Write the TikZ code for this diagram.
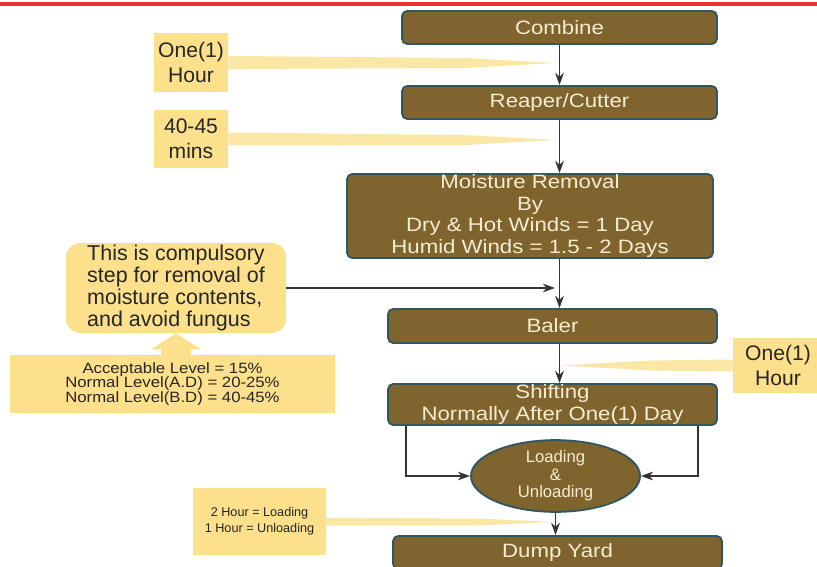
\documentclass[tikz,border=0pt]{standalone}
\usepackage{fontspec}
\setmainfont{Liberation Sans}
\newfontfamily\widesans[FakeStretch=1.15]{Liberation Sans}
\newfontfamily\smallwide[FakeStretch=1.12]{Liberation Sans}
\usetikzlibrary{shapes.geometric,arrows.meta}

\definecolor{stagebrown}{RGB}{128,100,45}
\definecolor{stageedge}{RGB}{50,88,95}
\definecolor{stagetext}{RGB}{246,236,210}
\definecolor{noteyellow}{RGB}{252,224,140}
\definecolor{wedgeyellow}{RGB}{251,231,165}
\definecolor{topred}{RGB}{235,50,50}

\begin{document}
\begin{tikzpicture}[x=0.02cm, y=-0.02cm,
    stage/.style={rectangle, draw=stageedge, line width=1.1pt, fill=stagebrown, rounded corners=3pt, text=stagetext, align=center, inner sep=0pt, minimum width=6.58cm, minimum height=0.66cm, font=\widesans\fontsize{11}{12.4}\selectfont},
    callout/.style={rectangle, fill=noteyellow, align=center, inner sep=0pt, text=black!85, font=\fontsize{12}{14}\selectfont},
    wedge/.style={fill=wedgeyellow},
    arr/.style={draw=black!80, line width=0.8pt, -{Stealth[length=7pt,width=5pt]}}]

    \useasboundingbox (0,0) rectangle (817,567);
    \draw[topred, line width=2pt] (0,4) -- (817,4);

    % main flow
    \node[stage, minimum width=6.3cm] (combine) at (559.5,27.5) {Combine};
    \node[stage, minimum width=6.3cm] (reaper) at (559.5,102.5) {Reaper/Cutter};
    \node[stage, minimum width=7.32cm, minimum height=1.68cm] (moisture) at (530,216) {Moisture Removal\\By\\Dry \& Hot Winds = 1 Day\\Humid Winds = 1.5 - 2 Days};
    \node[stage, minimum height=0.68cm] (baler) at (552.5,326) {Baler};
    \node[stage, minimum height=0.82cm] (shifting) at (552.5,404.5) {Shifting\\Normally After One(1) Day};
    \node[stage, ellipse, minimum width=3.38cm, minimum height=1.16cm, font=\fontsize{9.5}{10}\selectfont] (loading) at (555.5,476) {Loading\\\&\\Unloading};
    \node[stage] (dump) at (557.5,552.5) {Dump Yard};

    % side notes
    \node[callout, minimum width=1.48cm, minimum height=1.18cm] (hour1) at (191,62.5) {One(1)\\Hour};
    \node[callout, minimum width=1.48cm, minimum height=1.16cm] (mins) at (191,139) {40-45\\mins};
    \node[callout, rounded corners=8pt, align=left, minimum width=4.4cm, minimum height=1.8cm, font=\fontsize{12.2}{12.6}\selectfont] (note) at (176,288) {This is compulsory\\step for removal of\\moisture contents,\\and avoid fungus};
    \node[callout, minimum width=6.5cm, minimum height=1.16cm, font=\smallwide\fontsize{8.5}{8.3}\selectfont] (levels) at (172.5,384) {Acceptable Level = 15\%\\Normal Level(A.D) = 20-25\%\\Normal Level(B.D) = 40-45\%};
    \node[callout, minimum width=1.8cm, minimum height=1.1cm] (hour2) at (778,365.5) {One(1)\\Hour};
    \node[callout, minimum width=2.66cm, minimum height=1.34cm, font=\fontsize{7.2}{9}\selectfont] (loadtime) at (259.5,521.5) {2 Hour = Loading\\1 Hour = Unloading};

    \coordinate (tip1) at (555,63);
    \coordinate (tip2) at (555,140);
    \coordinate (tip3) at (561,365.5);
    \coordinate (tip4) at (553,522);
    \coordinate (tipnote) at (555,288);

    % pointers
    \fill[wedge] ([yshift=0.13cm]hour1.east) -- ([xshift=-1.8cm,yshift=0.1cm]tip1) -- (tip1) -- ([xshift=-1.8cm,yshift=-0.1cm]tip1) -- ([yshift=-0.13cm]hour1.east) -- cycle;
    \fill[wedge] ([yshift=0.13cm]mins.east) -- ([xshift=-1.8cm,yshift=0.1cm]tip2) -- (tip2) -- ([xshift=-1.8cm,yshift=-0.1cm]tip2) -- ([yshift=-0.13cm]mins.east) -- cycle;
    \fill[wedge] ([yshift=0.12cm]hour2.west) -- ([xshift=1.8cm,yshift=0.1cm]tip3) -- (tip3) -- ([xshift=1.8cm,yshift=-0.1cm]tip3) -- ([yshift=-0.12cm]hour2.west) -- cycle;
    \fill[wedge] ([yshift=0.08cm]loadtime.east) -- ([xshift=-1.5cm,yshift=0.07cm]tip4) -- (tip4) -- ([xshift=-1.5cm,yshift=-0.07cm]tip4) -- ([yshift=-0.08cm]loadtime.east) -- cycle;
    \fill[noteyellow] (note.south) -- ++(25,16) -- ++(-10,0) -- ++(0,8) -- ++(-30,0) -- ++(0,-8) -- ++(-10,0) -- cycle;

    % connectors
    \draw[arr] (combine) -- (reaper);
    \draw[arr] (reaper.south) -- (reaper.south |- moisture.north);
    \draw[arr] (moisture.south -| reaper.south) -- (baler.north -| reaper.south);
    \draw[arr] (baler.south -| reaper.south) -- (shifting.north -| reaper.south);
    \draw[arr] (note.east) -- (tipnote);
    \draw[arr] ([xshift=0.38cm]shifting.south west) |- (loading.west);
    \draw[arr] ([xshift=-0.4cm]shifting.south east) |- (loading.east);
    \draw[arr] (loading.south) -- (loading.south |- dump.north);
\end{tikzpicture}
\end{document}
